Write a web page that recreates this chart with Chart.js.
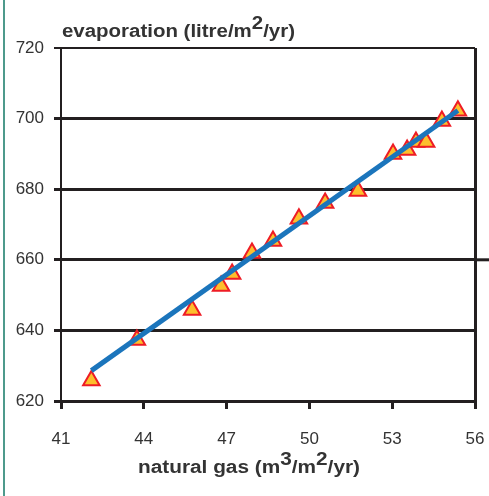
<!DOCTYPE html>
<html>
<head>
<meta charset="utf-8">
<script src="https://cdn.jsdelivr.net/npm/chart.js@4/dist/chart.umd.min.js"></script>
<style>
  html, body { margin: 0; padding: 0; background: #fff; }
  #wrap { width: 489px; height: 496px; position: relative; }
</style>
</head>
<body>
<div id="wrap"><canvas id="gasChart" width="489" height="496"></canvas></div>
<script>
// data
const gasValues = [42.1, 43.75, 45.75, 46.8, 47.2, 47.92, 48.68, 49.62, 50.57, 51.76, 53.03, 53.54, 53.86, 54.23, 54.8, 55.38];
const evapValues = [625.8, 637.3, 645.8, 652.6, 656.0, 661.9, 665.3, 671.6, 676.1, 679.5, 690.0, 691.1, 693.4, 693.4, 699.3, 702.2];
const fitX = [42.1, 55.38];
const fitY = [628.6, 702.3];
const xTicks = [41, 44, 47, 50, 53, 56];
const yTicks = [620, 640, 660, 680, 700, 720];

const axisColor = '#231f20';
const textColor = '#333333';
const fontFamily = '"Liberation Sans", Arial, sans-serif';

const scatterPoints = gasValues.map(function (g, i) { return { x: g, y: evapValues[i] }; });
const fitPoints = fitX.map(function (g, i) { return { x: g, y: fitY[i] }; });

// draws the axis titles with raised exponents, the left border and the long 660 line
const decorPlugin = {
    id: 'decor',
    afterDraw(chart) {
        const ctx = chart.ctx;
        const area = chart.chartArea;
        const yScale = chart.scales.y;
        ctx.save();

        // teal border at the left
        ctx.strokeStyle = '#4e9a8c';
        ctx.lineWidth = 2;
        ctx.beginPath();
        ctx.moveTo(4, 0);
        ctx.lineTo(4, 496);
        ctx.stroke();

        // the 660 line runs past the frame
        const y660 = yScale.getPixelForValue(660);
        ctx.strokeStyle = axisColor;
        ctx.lineWidth = 3;
        ctx.beginPath();
        ctx.moveTo(area.right, y660);
        ctx.lineTo(489, y660);
        ctx.stroke();

        ctx.fillStyle = textColor;
        ctx.textBaseline = 'alphabetic';
        drawSupText(ctx, [['evaporation (litre/m', 0], ['2', 1], ['/yr)', 0]], 62, 37, 'left', 233);
        drawSupText(ctx, [['natural gas (m', 0], ['3', 1], ['/m', 0], ['2', 1], ['/yr)', 0]], 249, 473, 'center', 222);
        ctx.restore();
    }
};

function drawSupText(ctx, parts, x, y, align, width) {
    ctx.font = 'bold 18px ' + fontFamily;
    let total = 0;
    for (let i = 0; i < parts.length; i++) {
        total += ctx.measureText(parts[i][0]).width;
    }
    // stretch a little so the line has the width of the original
    const sx = width / total;
    const left = align === 'center' ? x - width / 2 : x;
    ctx.save();
    ctx.translate(left, y);
    ctx.scale(sx, 1);
    ctx.textAlign = 'left';
    let cx = 0;
    for (let i = 0; i < parts.length; i++) {
        const raise = parts[i][1] ? 8 : 0;
        ctx.fillText(parts[i][0], cx, -raise);
        cx += ctx.measureText(parts[i][0]).width;
    }
    ctx.restore();
}

new Chart(document.getElementById('gasChart'), {
    type: 'scatter',
    data: {
        datasets: [{
            label: 'fit',
            type: 'line',
            data: fitPoints,
            borderColor: '#1b75bc',
            borderWidth: 5,
            pointRadius: 0,
            fill: false
        }, {
            label: 'evaporation',
            data: scatterPoints,
            pointStyle: 'triangle',
            pointRadius: 9.5,
            pointBorderWidth: 2,
            pointBackgroundColor: '#fdbf2d',
            pointBorderColor: '#ee1c25'
        }]
    },
    plugins: [decorPlugin],
    options: {
        responsive: false,
        animation: false,
        events: [],
        layout: { padding: { top: 48, right: 14, left: 0, bottom: 0 } },
        plugins: {
            legend: { display: false },
            tooltip: { enabled: false }
        },
        scales: {
            x: {
                type: 'linear',
                min: 41,
                max: 56,
                afterBuildTicks: function (axis) {
                    axis.ticks = xTicks.map(function (v) { return { value: v }; });
                },
                afterFit: function (axis) {
                    axis.height = 95;
                    axis.paddingLeft = 0;
                    axis.paddingRight = 0;
                },
                grid: {
                    drawOnChartArea: true,
                    color: function (c) { return c.tick && c.tick.value === 56 ? axisColor : 'rgba(0,0,0,0)'; },
                    tickColor: axisColor,
                    lineWidth: 3,
                    tickLength: 8
                },
                border: { display: true, color: axisColor, width: 3 },
                ticks: {
                    color: textColor,
                    padding: 20,
                    maxRotation: 0,
                    font: { family: fontFamily, size: 17 }
                }
            },
            y: {
                type: 'linear',
                min: 620,
                max: 720,
                afterBuildTicks: function (axis) {
                    axis.ticks = yTicks.map(function (v) { return { value: v }; });
                },
                afterFit: function (axis) {
                    axis.width = 61;
                    axis.paddingTop = 0;
                    axis.paddingBottom = 0;
                },
                grid: {
                    drawOnChartArea: true,
                    color: axisColor,
                    tickColor: axisColor,
                    lineWidth: function (c) { return c.tick && c.tick.value === 720 ? 2 : 3; },
                    tickLength: 7
                },
                border: { display: true, color: axisColor, width: 2 },
                ticks: {
                    color: textColor,
                    padding: 10,
                    font: { family: fontFamily, size: 17 }
                }
            }
        }
    }
});
</script>
</body>
</html>
